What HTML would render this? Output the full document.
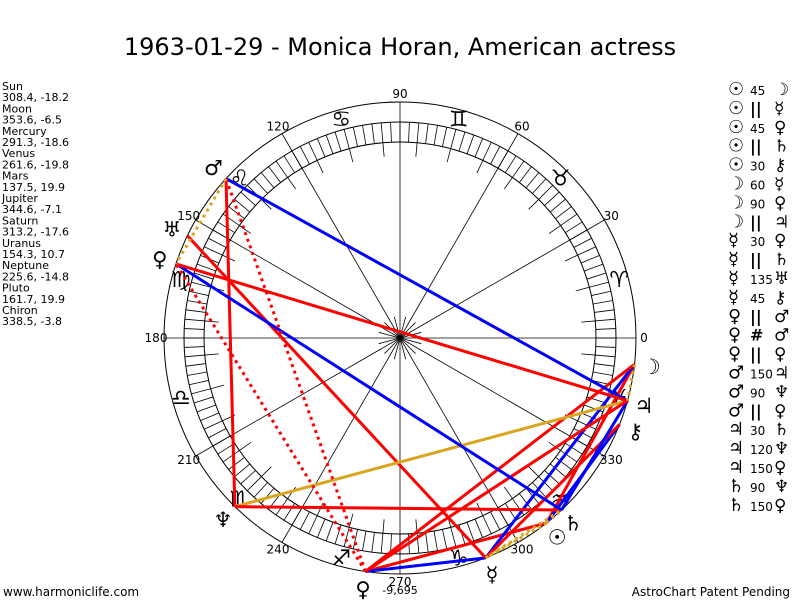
<!DOCTYPE html>
<html><head><meta charset="utf-8"><style>
body{margin:0;width:800px;height:600px;background:#fff;overflow:hidden;font-family:"Liberation Sans","DejaVu Sans",sans-serif}
svg{position:absolute;left:0;top:0}
</style></head><body>
<svg id="s" width="800" height="600" xmlns="http://www.w3.org/2000/svg" font-family="'DejaVu Sans','Liberation Sans',sans-serif">
<text x="400" y="55" font-size="24" text-anchor="middle" font-family="'DejaVu Sans',sans-serif">1963-01-29 - Monica Horan, American actress</text>
<text x="3" y="596" font-size="12">www.harmoniclife.com</text>
<text x="790" y="596" font-size="12" text-anchor="end">AstroChart Patent Pending</text>
<text x="400" y="594" font-size="11" text-anchor="middle">-9,695</text>
<g id="g"></g>
</svg>
<script>
var NS="http://www.w3.org/2000/svg",g=document.getElementById('g');
var cx=400,cy=338,R=236,R1=216,R2=196;
function el(t,a,txt){var e=document.createElementNS(NS,t);for(var k in a)e.setAttribute(k,a[k]);if(txt!==undefined)e.textContent=txt;g.appendChild(e);return e;}
function P(a,r){var t=a*Math.PI/180;return [cx+r*Math.cos(t),cy-r*Math.sin(t)];}
el('circle',{cx:cx,cy:cy,r:R,fill:'none',stroke:'#000','stroke-width':1});
el('circle',{cx:cx,cy:cy,r:R1,fill:'none',stroke:'#000','stroke-width':1});
el('circle',{cx:cx,cy:cy,r:R2,fill:'none',stroke:'#000','stroke-width':1});
for(var a=0;a<360;a+=2.5){var p=P(a,R2),q=P(a,R1);el('line',{x1:p[0],y1:p[1],x2:q[0],y2:q[1],stroke:'#000','stroke-width':0.8});}
for(var a=5;a<360;a+=10){var p=P(a,R2-14),q=P(a,R2);el('line',{x1:p[0],y1:p[1],x2:q[0],y2:q[1],stroke:'#000','stroke-width':0.8});}
for(var a=0;a<360;a+=30){var q=P(a,R);el('line',{x1:cx,y1:cy,x2:q[0],y2:q[1],stroke:'#000','stroke-width':0.8});
 var l=P(a,244);el('text',{x:l[0],y:l[1]+4,'font-size':12,'text-anchor':'middle'},String(a));}
for(var a=15;a<360;a+=30){var q=P(a,22);el('line',{x1:cx,y1:cy,x2:q[0],y2:q[1],stroke:'#000','stroke-width':0.8});}
var signs="♈♉♊♋♌♍♎♏♐♑♒♓";
for(var i=0;i<12;i++){var l=P(15+30*i,227);el('text',{x:l[0],y:l[1]+8,'font-size':22,'text-anchor':'middle'},signs[i]);}
var pl={Su:[308.4,'☉'],Mo:[353.6,'☽'],Me:[291.3,'☿'],Ve:[261.6,'♀'],Ma:[137.5,'♂'],Ju:[344.6,'♃'],Sa:[313.2,'♄'],Ur:[154.3,'♅'],Ne:[225.6,'♆'],Pl:[161.7,'♀'],Ch:[338.5,'⚷']};
var asp=[['Su','Mo','r'],['Su','Ve','r'],['Su','Ch','b'],['Mo','Me','b'],['Mo','Ve','r'],['Me','Ve','b'],['Me','Ur','r'],['Me','Ch','r'],['Ma','Ju','b'],['Ma','Ne','r'],['Ju','Sa','b'],['Ju','Ne','o'],['Ju','Ve','r'],['Sa','Ne','r'],['Sa','Pl','b'],['Pl','Ju','r'],
['Su','Me','od'],['Su','Sa','od'],['Mo','Ju','od'],['Me','Sa','od'],['Ve','Ma','rd'],['Ve','Pl','rd'],['Ma','Pl','od']];
var col={r:'#f00',b:'#00f',o:'#daa520'};
asp.forEach(function(s){var a=P(pl[s[0]][0],R),b=P(pl[s[1]][0],R);var c=s[2];
 var at={x1:a[0],y1:a[1],x2:b[0],y2:b[1],stroke:col[c[0]],'stroke-width':3};
 if(c.length>1){at['stroke-dasharray']='3,4';}
 el('line',at);});
for(var k in pl){var l=P(pl[k][0],253);el('text',{x:l[0],y:l[1]+8,'font-size':21,'text-anchor':'middle'},pl[k][1]);}
var left=["Sun","308.4, -18.2","Moon","353.6, -6.5","Mercury","291.3, -18.6","Venus","261.6, -19.8","Mars","137.5, 19.9","Jupiter","344.6, -7.1","Saturn","313.2, -17.6","Uranus","154.3, 10.7","Neptune","225.6, -14.8","Pluto","161.7, 19.9","Chiron","338.5, -3.8"];
left.forEach(function(t,i){el('text',{x:2,y:90+i*11.2,'font-size':11,'font-family':"'DejaVu Sans',sans-serif"},t);});
var leg=[['☉','45','☽'],['☉','||','☿'],['☉','45','♀'],['☉','||','♄'],['☉','30','⚷'],['☽','60','☿'],['☽','90','♀'],['☽','||','♃'],['☿','30','♀'],['☿','||','♄'],['☿','135','♅'],['☿','45','⚷'],['♀','||','♂'],['♀','#','♂'],['♀','||','♀'],['♂','150','♃'],['♂','90','♆'],['♂','||','♀'],['♃','30','♄'],['♃','120','♆'],['♃','150','♀'],['♄','90','♆'],['♄','150','♀']];
leg.forEach(function(r,i){var y=95+i*18.9;
 el('text',{x:728,y:y,'font-size':18,'font-weight':'bold'},r[0]);
 var sym=(r[1]=='||'||r[1]=='#');
 el('text',{x:750,y:y,'font-size':sym?16:12,'font-weight':sym?'bold':'normal'},r[1]);
 el('text',{x:774,y:y,'font-size':17},r[2]);});
</script>
</body></html>
